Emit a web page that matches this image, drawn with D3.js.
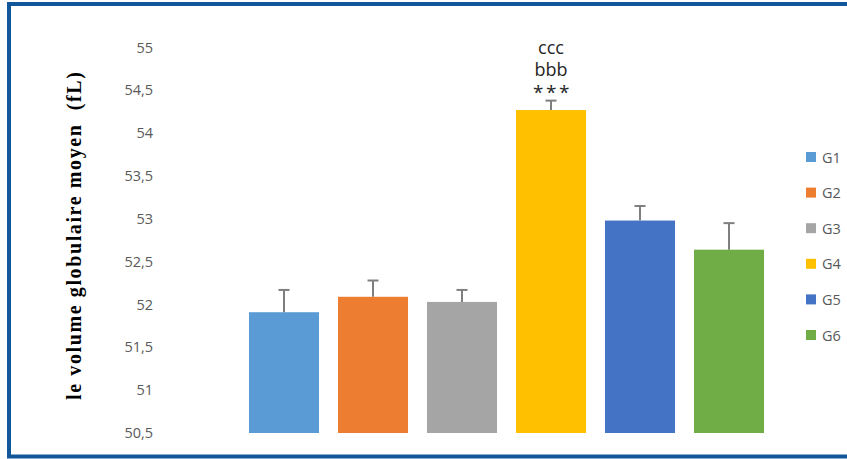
<!DOCTYPE html>
<html><head><meta charset="utf-8">
<script src="https://cdn.jsdelivr.net/npm/d3@7"></script>
<style>body{margin:0;background:#fff}svg{display:block}</style>
</head><body>
<svg id="c" width="847" height="459"></svg>
<script>
const categories = ["G1","G2","G3","G4","G5","G6"];
const values = [51.91, 52.09, 52.03, 54.27, 52.98, 52.64];
const errors = [0.26, 0.19, 0.14, 0.11, 0.17, 0.31];
const colors = ["#5B9BD5","#ED7D31","#A5A5A5","#FFC000","#4472C4","#70AD47"];
const yTicks = [50.5,51,51.5,52,52.5,53,53.5,54,54.5,55];
const annotations = {G4: ["ccc","bbb","***"]};
const yLabel = "le volume globulaire moyen\u00A0 (fL)";

const svg = d3.select("#c");
svg.append("rect").attr("x",9).attr("y",4).attr("width",860).attr("height",452.5)
  .attr("fill","#fff").attr("stroke","#13579B").attr("stroke-width",4);

const y = d3.scaleLinear().domain([50.5,55]).range([433,47.5]);
const x = d3.scaleBand().domain(categories).range([239.5,773.5]).paddingInner(0.213).paddingOuter(0.1065);

const fmt = d => String(d).replace(".",",");
const yAxis = d3.axisLeft(y).tickValues(yTicks).tickFormat(fmt).tickSize(0).tickPadding(0);
const ga = svg.append("g").attr("transform","translate(153,0)").call(yAxis);
ga.select(".domain").remove();
ga.selectAll("text").attr("font-family","'Open Sans', sans-serif").attr("font-size",14.5).attr("fill","#595959");

svg.append("g").selectAll("rect").data(categories).join("rect")
  .attr("x",d=>x(d)).attr("width",x.bandwidth())
  .attr("y",(d,i)=>y(values[i])).attr("height",(d,i)=>y(50.5)-y(values[i]))
  .attr("fill",(d,i)=>colors[i]);

const eb = svg.append("g").attr("stroke","#7F7F7F").attr("stroke-width",2);
categories.forEach((d,i)=>{
  const cx = x(d)+x.bandwidth()/2;
  eb.append("line").attr("x1",cx).attr("x2",cx).attr("y1",y(values[i])).attr("y2",y(values[i]+errors[i]));
  eb.append("line").attr("x1",cx-5.5).attr("x2",cx+5.5).attr("y1",y(values[i]+errors[i])).attr("y2",y(values[i]+errors[i]));
});

Object.entries(annotations).forEach(([k,lines])=>{
  const i = categories.indexOf(k);
  const cx = x(k)+x.bandwidth()/2;
  const top = y(values[i]+errors[i]);
  lines.forEach((t,j)=>{
    const isStar = t.indexOf("*")>=0;
    svg.append("text").attr("x",cx + (isStar?1.5:0)).attr("y",(isStar? top-2 : top-3-(lines.length-1-j)*22))
      .attr("text-anchor","middle").attr("font-family","'Open Sans', sans-serif")
      .attr("font-size",isStar?19:18).attr("letter-spacing",isStar?2.5:0)
      .attr("fill","#262626").text(t);
  });
});

svg.append("text").attr("transform","translate(81,236) rotate(-90)")
  .attr("text-anchor","middle").attr("font-family","'Liberation Serif', serif")
  .attr("font-weight","bold").attr("font-size",20).attr("textLength",328).attr("lengthAdjust","spacing")
  .attr("fill","#000").text(yLabel);

const lg = svg.append("g");
categories.forEach((d,i)=>{
  const cy = 157 + i*35.6;
  lg.append("rect").attr("x",806).attr("y",cy-5).attr("width",10).attr("height",10).attr("fill",colors[i]);
  lg.append("text").attr("x",822).attr("y",cy+5.5).attr("font-family","'Open Sans', sans-serif")
    .attr("font-size",14.5).attr("fill","#595959").text(d);
});
</script>
</body></html>
